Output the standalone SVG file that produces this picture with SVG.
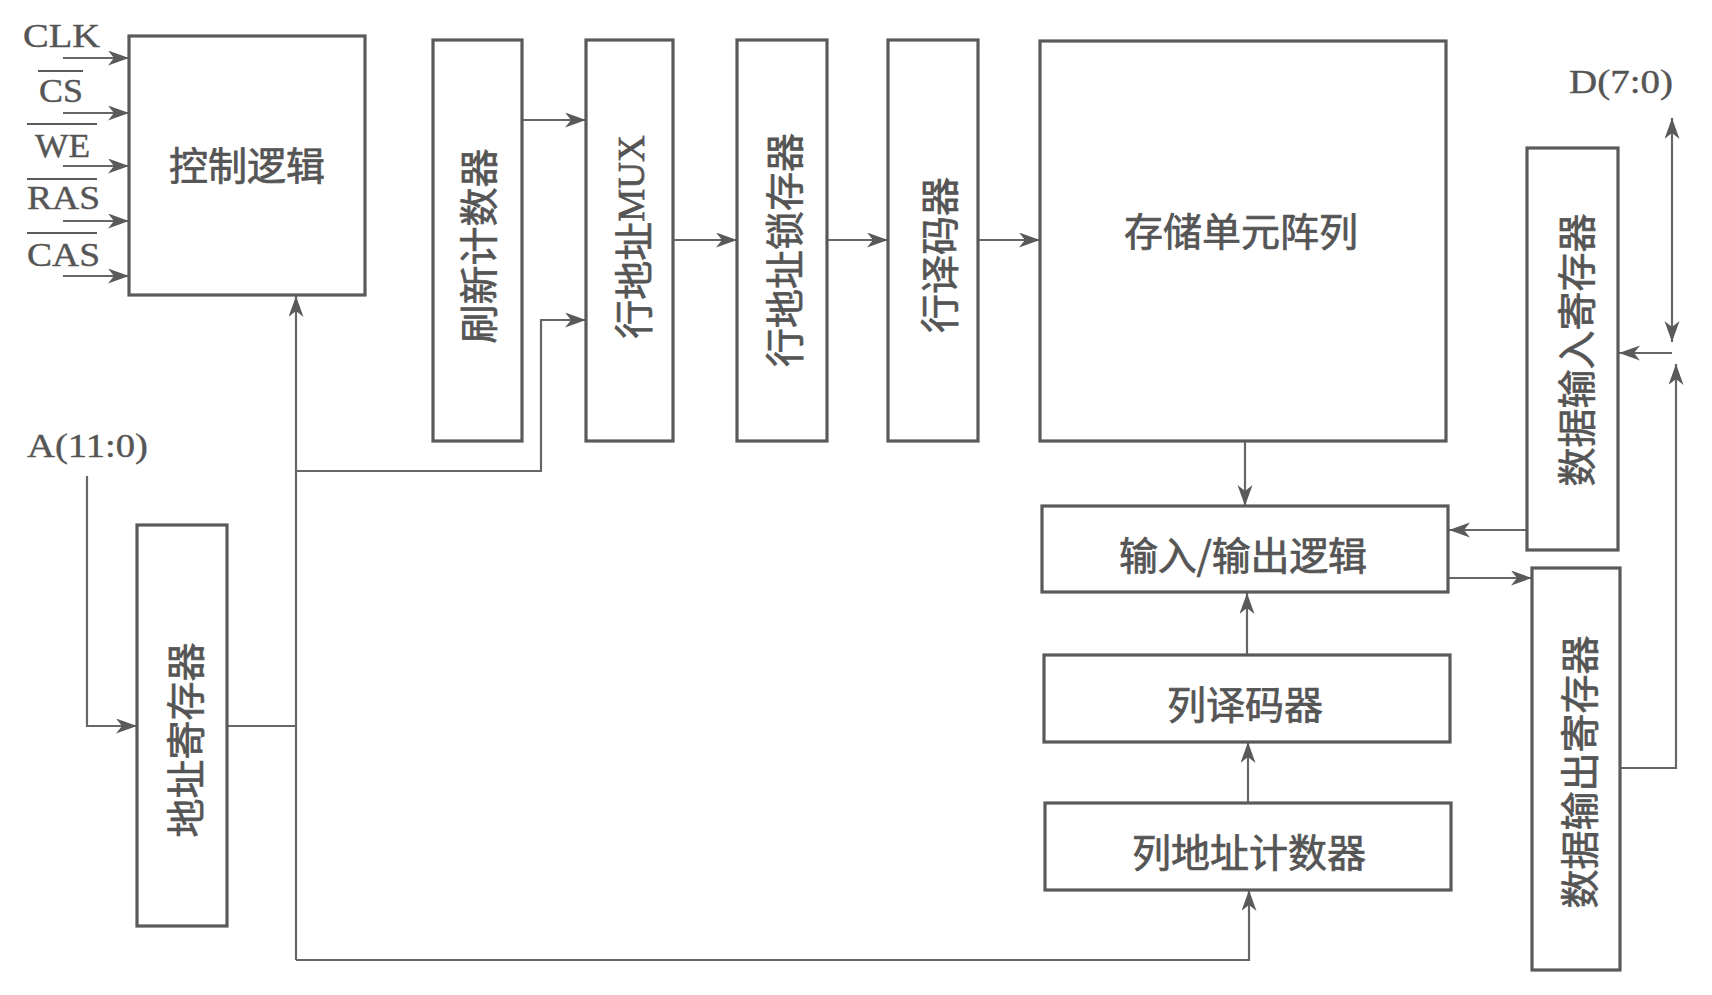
<svg xmlns="http://www.w3.org/2000/svg" width="1712" height="995" viewBox="0 0 1712 995">
<defs>
<marker id="arr" markerUnits="userSpaceOnUse" markerWidth="24" markerHeight="16" refX="21" refY="7.5" orient="auto-start-reverse" viewBox="0 0 24 16">
<path d="M0,0 L21,7.5 L0,15 L6,7.5 Z" fill="#5a5a5a"/>
</marker>
<style>
.box{fill:#ffffff;stroke:#5a5a5a;stroke-width:3.2}
.ln{fill:none;stroke:#666666;stroke-width:2.2}
.cn{font-family:"Noto Sans CJK SC","Noto Sans",sans-serif;font-size:39px;fill:#555555;stroke:#555555;stroke-width:0.7;text-anchor:middle;dominant-baseline:central}
.lt{font-family:"Liberation Serif","DejaVu Serif",serif;font-size:34px;fill:#555555;stroke:#555555;stroke-width:0.4}
.mx{font-family:"Liberation Serif","DejaVu Serif",serif;font-size:37px}
.ov{fill:none;stroke:#5a5a5a;stroke-width:2}
</style>
</defs>
<rect width="1712" height="995" fill="#ffffff"/>

<g id="connectors">
<line class="ln" x1="63" y1="58" x2="129" y2="58" marker-end="url(#arr)"/>
<line class="ln" x1="63" y1="113" x2="129" y2="113" marker-end="url(#arr)"/>
<line class="ln" x1="63" y1="166" x2="129" y2="166" marker-end="url(#arr)"/>
<line class="ln" x1="63" y1="221" x2="129" y2="221" marker-end="url(#arr)"/>
<line class="ln" x1="63" y1="276" x2="129" y2="276" marker-end="url(#arr)"/>
<line class="ln" x1="522" y1="120" x2="586" y2="120" marker-end="url(#arr)"/>
<polyline class="ln" points="296,960 296,296" marker-end="url(#arr)"/>
<polyline class="ln" points="296,471 541,471 541,320 586,320" marker-end="url(#arr)"/>
<line class="ln" x1="227" y1="726" x2="296" y2="726"/>
<polyline class="ln" points="87,476 87,726 137,726" marker-end="url(#arr)"/>
<polyline class="ln" points="296,960 1249,960 1249,890" marker-end="url(#arr)"/>
<line class="ln" x1="673" y1="240" x2="737" y2="240" marker-end="url(#arr)"/>
<line class="ln" x1="827" y1="240" x2="888" y2="240" marker-end="url(#arr)"/>
<line class="ln" x1="978" y1="240" x2="1040" y2="240" marker-end="url(#arr)"/>
<line class="ln" x1="1245" y1="441" x2="1245" y2="506" marker-end="url(#arr)"/>
<line class="ln" x1="1247" y1="655" x2="1247" y2="593" marker-end="url(#arr)"/>
<line class="ln" x1="1248" y1="803" x2="1248" y2="742" marker-end="url(#arr)"/>
<line class="ln" x1="1527" y1="530" x2="1449" y2="530" marker-end="url(#arr)"/>
<line class="ln" x1="1449" y1="578" x2="1532" y2="578" marker-end="url(#arr)"/>
<line class="ln" x1="1672" y1="342" x2="1672" y2="118" marker-start="url(#arr)" marker-end="url(#arr)"/>
<line class="ln" x1="1672" y1="353" x2="1619" y2="353" marker-end="url(#arr)"/>
<polyline class="ln" points="1620,768 1676,768 1676,364" marker-end="url(#arr)"/>
</g>

<g id="signals">
<text class="lt" x="23" y="47" textLength="77" lengthAdjust="spacingAndGlyphs">CLK</text>
<text class="lt" x="39" y="102" textLength="44" lengthAdjust="spacingAndGlyphs">CS</text>
<line class="ov" x1="38" y1="71" x2="83" y2="71"/>
<text class="lt" x="35" y="157" textLength="55" lengthAdjust="spacingAndGlyphs">WE</text>
<line class="ov" x1="27" y1="124" x2="97" y2="124"/>
<text class="lt" x="27" y="209" textLength="73" lengthAdjust="spacingAndGlyphs">RAS</text>
<line class="ov" x1="27" y1="179" x2="97" y2="179"/>
<text class="lt" x="27" y="266" textLength="73" lengthAdjust="spacingAndGlyphs">CAS</text>
<line class="ov" x1="27" y1="233" x2="97" y2="233"/>
<text class="lt" x="27" y="457" font-size="36" textLength="121" lengthAdjust="spacingAndGlyphs">A(11:0)</text>
<text class="lt" x="1569" y="93" font-size="36" textLength="104" lengthAdjust="spacingAndGlyphs">D(7:0)</text>
</g>

<g id="control">
<rect class="box" x="129" y="36" width="236" height="259"/>
<text class="cn" x="247" y="163">控制逻辑</text>
</g>
<g id="refresh">
<rect class="box" x="433" y="40" width="89" height="401"/>
<text class="cn" transform="translate(476,246) rotate(-90)">刷新计数器</text>
</g>
<g id="rowmux">
<rect class="box" x="586" y="40" width="87" height="401"/>
<text class="cn" transform="translate(631,237) rotate(-90)">行地址<tspan class="mx">MUX</tspan></text>
</g>
<g id="rowlatch">
<rect class="box" x="737" y="40" width="90" height="401"/>
<text class="cn" transform="translate(782,250) rotate(-90)">行地址锁存器</text>
</g>
<g id="rowdec">
<rect class="box" x="888" y="40" width="90" height="401"/>
<text class="cn" transform="translate(937,255) rotate(-90)">行译码器</text>
</g>
<g id="array">
<rect class="box" x="1040" y="41" width="406" height="400"/>
<text class="cn" x="1241" y="229">存储单元阵列</text>
</g>
<g id="datain">
<rect class="box" x="1527" y="148" width="91" height="402"/>
<text class="cn" transform="translate(1574,350) rotate(-90)">数据输入寄存器</text>
</g>
<g id="io">
<rect class="box" x="1042" y="506" width="406" height="86"/>
<text class="cn" x="1243" y="553" textLength="248" lengthAdjust="spacing" stroke-width="1">输入/输出逻辑</text>
</g>
<g id="dataout">
<rect class="box" x="1532" y="568" width="88" height="402"/>
<text class="cn" transform="translate(1577,772) rotate(-90)">数据输出寄存器</text>
</g>
<g id="coldec">
<rect class="box" x="1044" y="655" width="406" height="87"/>
<text class="cn" x="1245" y="702">列译码器</text>
</g>
<g id="colcnt">
<rect class="box" x="1045" y="803" width="406" height="87"/>
<text class="cn" x="1249" y="850">列地址计数器</text>
</g>
<g id="addrreg">
<rect class="box" x="137" y="525" width="90" height="401"/>
<text class="cn" transform="translate(183,740) rotate(-90)">地址寄存器</text>
</g>
</svg>
